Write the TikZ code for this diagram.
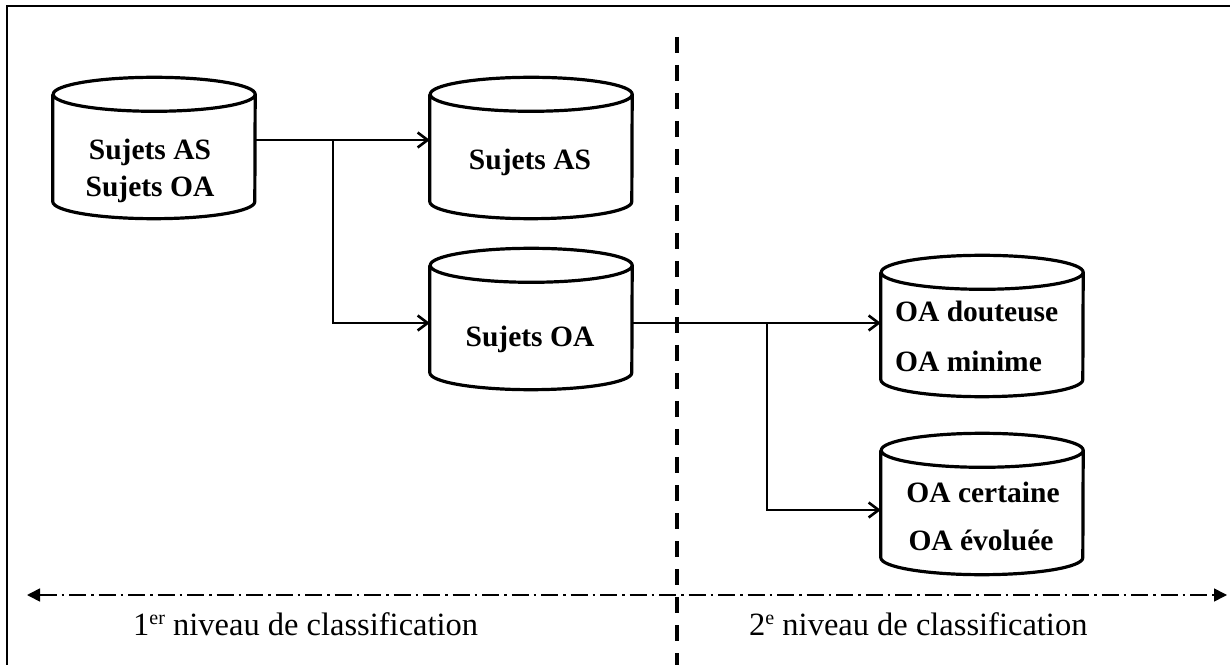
\documentclass[tikz,border=0pt]{standalone}
\usepackage{fontspec}
\setmainfont{Liberation Serif}
\usetikzlibrary{arrows.meta}
\tikzset{
  box/.style={rectangle, minimum width=202pt, minimum height=141pt, inner sep=0pt, draw=none},
  cyl/.style={line width=3.2pt, line join=round},
  conn/.style={line width=2.8pt, -{Straight Barb[length=10pt,width=15pt,line width=2.6pt]}},
  lbl/.style={font=\fontsize{29.5}{35}\selectfont\bfseries, inner sep=0pt},
  lvl/.style={font=\fontsize{32.5}{38}\selectfont, inner sep=0pt},
  vdash/.style={line width=4.2pt, dash pattern=on 16pt off 12pt},
  ddot/.style={line width=1.6pt, dash pattern=on 17pt off 5pt on 2.5pt off 5pt, {Triangle[length=13pt,width=13pt]}-{Triangle[length=13pt,width=13pt]}},
}
\newcommand\drawcyl[1]{%
  \draw[cyl] ([yshift=-17pt]#1.north west) -- ([yshift=17pt]#1.south west)
    arc[start angle=180,end angle=360,x radius=101pt,y radius=17pt]
    -- ([yshift=-17pt]#1.north east)
    arc[start angle=0,end angle=180,x radius=101pt,y radius=17pt]
    arc[start angle=180,end angle=360,x radius=101pt,y radius=17pt];%
}
\begin{document}
\begin{tikzpicture}[x=1pt,y=1pt]
\useasboundingbox (0,0) rectangle (1230,664);
% frame
\draw[line width=2.6pt] (7,-5) -- (7,658) -- (1240,658);
% cylinders
\node[box] (c1) at (154,516) {};
\node[box] (c2) at (531,516) {};
\node[box] (c3) at (531,345) {};
\node[box] (c4) at (982,338) {};
\node[box] (c5) at (982,160) {};
\drawcyl{c1}\drawcyl{c2}\drawcyl{c3}\drawcyl{c4}\drawcyl{c5}
% texts
\node[lbl, anchor=base] (t1a) at (150,504) {Sujets AS};
\node[lbl, anchor=base] (t1b) at (150,467) {Sujets OA};
\node[lbl, anchor=base] (t2) at (530,494) {Sujets AS};
\node[lbl, anchor=base] (t3) at (530,317) {Sujets OA};
\node[lbl, anchor=base west] (t4a) at (895,342) {OA douteuse};
\node[lbl, anchor=base west] (t4b) at (895,292) {OA minime};
\node[lbl, anchor=base] (t5a) at (983,162) {OA certaine};
\node[lbl, anchor=base] (t5b) at (981,114) {OA évoluée};
% divider
\draw[vdash] (677,627) -- (677,-5);
% connectors
\coordinate (j1) at (333,524);
\coordinate (j2) at (333,341);
\coordinate (j3) at (767,341);
\coordinate (j4) at (767,154);
\draw[conn] (c1.east |- j1) -- (j1 -| c2.west);
\draw[conn] (j1) -- (j2) -- (j2 -| c3.west);
\draw[conn] (c3.east |- j3) -- (j3 -| c4.west);
\draw[conn] (j3) -- (j4) -- (j4 -| c5.west);
% level axis
\coordinate (la) at (27,69);
\coordinate (lb) at (1227,69);
\draw[ddot] (la) -- (lb);
\node[lvl, anchor=base west] (n1) at (133,29) {1{\raisebox{11pt}{\fontsize{20}{20}\selectfont er}} niveau de classification};
\node[lvl, anchor=base west] (n2) at (749,29) {2{\raisebox{11pt}{\fontsize{20}{20}\selectfont e}} niveau de classification};
\end{tikzpicture}
\end{document}
